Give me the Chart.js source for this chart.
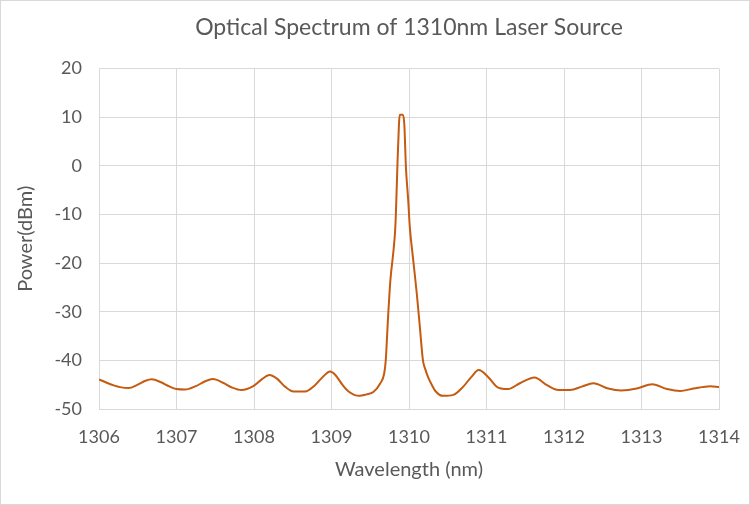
<!DOCTYPE html>
<html>
<head>
<meta charset="utf-8">
<script src="https://cdn.jsdelivr.net/npm/chart.js@4/dist/chart.umd.min.js"></script>
<style>
  html, body { margin: 0; padding: 0; background: #fff; }
  #wrap { width: 750px; height: 505px; position: relative; }
</style>
</head>
<body>
<div id="wrap"><canvas id="c" width="750" height="505"></canvas></div>
<script>
const chartTitle = 'Optical Spectrum of 1310nm Laser Source';
const xTitle = 'Wavelength (nm)';
const yTitle = 'Power(dBm)';

const wavelength = [
  1306.00, 1306.10, 1306.20, 1306.27, 1306.38, 1306.50, 1306.60, 1306.68, 1306.80, 1306.90,
  1307.00, 1307.11, 1307.25, 1307.37, 1307.47, 1307.60, 1307.72, 1307.84, 1307.99, 1308.10,
  1308.20, 1308.30, 1308.40, 1308.51, 1308.66, 1308.78, 1308.90, 1308.98, 1309.05, 1309.14,
  1309.22, 1309.36, 1309.45, 1309.54, 1309.63, 1309.68, 1309.70, 1309.73, 1309.76, 1309.80,
  1309.82, 1309.83, 1309.85, 1309.87, 1309.88, 1309.92, 1309.94, 1309.96, 1309.99, 1310.01,
  1310.05, 1310.10, 1310.14, 1310.18, 1310.21, 1310.25, 1310.30, 1310.34, 1310.44, 1310.57,
  1310.70, 1310.80, 1310.90, 1311.02, 1311.15, 1311.28, 1311.43, 1311.62, 1311.78, 1311.93,
  1312.08, 1312.23, 1312.38, 1312.57, 1312.74, 1312.94, 1313.14, 1313.33, 1313.50, 1313.67,
  1313.89, 1314.00
];
const power = [
  -43.9, -44.6, -45.2, -45.5, -45.7, -45.0, -44.2, -43.9, -44.5, -45.3,
  -45.9, -46.0, -45.3, -44.3, -43.85, -44.6, -45.6, -46.1, -45.3, -43.9,
  -43.0, -43.8, -45.4, -46.4, -46.4, -45.2, -43.2, -42.3, -43.0, -45.0,
  -46.4, -47.3, -47.0, -46.5, -44.7, -42.7, -40.0, -31.1, -23.5, -17.4,
  -13.6, -10.2, -0.2, 8.4, 10.5, 10.5, 8.4, -0.2, -7.1, -12.5,
  -18.7, -26.2, -33.1, -40.0, -41.8, -43.6, -45.2, -46.3, -47.3, -47.1,
  -45.4, -43.5, -42.0, -43.4, -45.6, -45.9, -44.7, -43.5, -45.1, -46.1,
  -46.1, -45.4, -44.7, -45.8, -46.2, -45.8, -44.9, -45.9, -46.3, -45.8,
  -45.3, -45.5
];
const xTicks = [1306, 1307, 1308, 1309, 1310, 1311, 1312, 1313, 1314];
const yTicks = [-50, -40, -30, -20, -10, 0, 10, 20];

const points = wavelength.map((w, i) => ({ x: w, y: power[i] }));
const textColor = '#595959';
const gridColor = '#d9d9d9';
const fontFamily = 'Lato, "Open Sans", sans-serif';

const borderPlugin = {
  id: 'outerBorder',
  beforeDraw(chart) {
    const ctx = chart.ctx;
    ctx.save();
    ctx.fillStyle = '#ffffff';
    ctx.fillRect(0, 0, chart.width, chart.height);
    ctx.restore();
  },
  afterDraw(chart) {
    const ctx = chart.ctx;
    ctx.save();
    ctx.strokeStyle = '#d9d9d9';
    ctx.lineWidth = 1;
    ctx.strokeRect(0.5, 0.5, chart.width - 1, chart.height - 1);
    ctx.restore();
  }
};

new Chart(document.getElementById('c'), {
  type: 'line',
  data: {
    datasets: [{
      data: points,
      borderColor: '#C55A11',
      borderWidth: 2,
      pointRadius: 0,
      fill: false,
      cubicInterpolationMode: 'monotone'
    }]
  },
  options: {
    responsive: false,
    animation: false,
    layout: { padding: { left: 0, right: 31, top: 0, bottom: 0 } },
    plugins: {
      legend: { display: false },
      tooltip: { enabled: false },
      title: {
        display: true,
        fullSize: false,
        text: chartTitle,
        color: textColor,
        font: { family: fontFamily, size: 23, weight: 'normal' },
        padding: { top: 14, bottom: 27 }
      }
    },
    scales: {
      x: {
        type: 'linear',
        min: 1306,
        max: 1314,
        afterBuildTicks(scale) { scale.ticks = xTicks.map(v => ({ value: v })); },
        afterFit(scale) { scale.height = 96; scale.paddingLeft = 0; scale.paddingRight = 0; },
        grid: { color: gridColor, drawTicks: false, lineWidth: 1 },
        border: { color: gridColor },
        ticks: {
          color: textColor,
          padding: 17,
          font: { family: fontFamily, size: 18 },
          callback: v => String(v)
        },
        title: {
          display: true,
          text: xTitle,
          color: textColor,
          font: { family: fontFamily, size: 20 },
          padding: { top: 0, bottom: 23 }
        }
      },
      y: {
        min: -50,
        max: 20,
        afterBuildTicks(scale) { scale.ticks = yTicks.map(v => ({ value: v })); },
        afterFit(scale) { scale.width = 99; scale.paddingTop = 0; scale.paddingBottom = 0; },
        grid: { color: gridColor, drawTicks: false, lineWidth: 1 },
        border: { color: gridColor },
        ticks: {
          color: textColor,
          padding: 17,
          font: { family: fontFamily, size: 18 },
          callback: v => String(v)
        },
        title: {
          display: true,
          text: yTitle,
          color: textColor,
          font: { family: fontFamily, size: 20 },
          padding: { top: 14, bottom: 0 }
        }
      }
    }
  },
  plugins: [borderPlugin]
});
</script>
</body>
</html>
